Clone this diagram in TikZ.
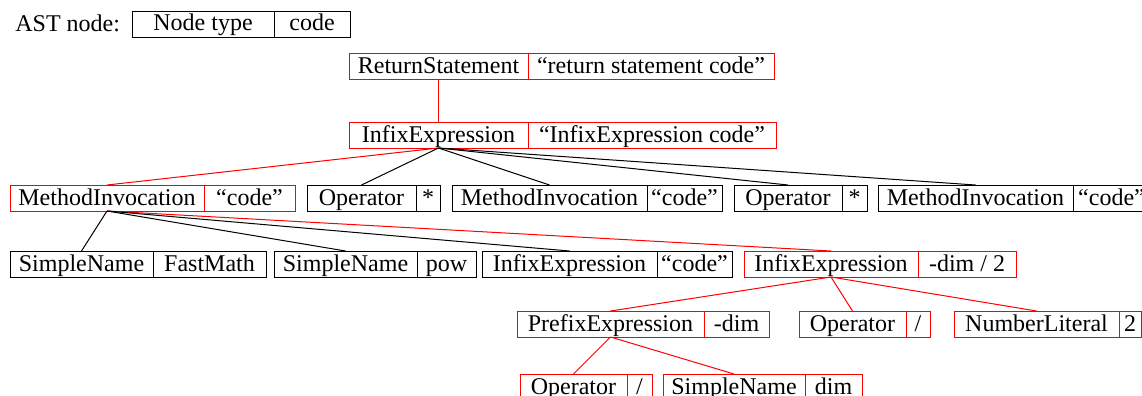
\documentclass[tikz,border=0pt]{standalone}
\usepackage{fontspec}
\setmainfont{Liberation Serif}
\definecolor{astred}{HTML}{FF0000}
\definecolor{astink}{HTML}{000000}

\begin{document}
\begin{tikzpicture}[x=0.5pt,y=-0.5pt,font=\fontsize{12pt}{14pt}\selectfont,
  part/.style={draw=#1,line width=0.5pt,anchor=west,minimum height=13pt,inner xsep=0,inner ysep=0.25pt,
    text height=9.75pt,text depth=2.75pt,outer sep=0},
  link/.style={draw=#1,line width=0.5pt}]
  \useasboundingbox (0,0) rectangle (1142,396);
  \clip (0,0) rectangle (1142,396);
  \node[anchor=base west,inner sep=0] (legend) at (15,32) {AST node:};
  % each AST node: type part + code part
  \foreach \name/\col/\xa/\xb/\xc/\yy/\type/\code in {%
    key/astink/132/274/350/24/{Node type}/code,
    ret/astred/349/528/774/66/ReturnStatement/{“return statement code”},
    infix/astred/349/528/776/135/InfixExpression/{“InfixExpression code”},
    callA/astred/10/204/295/198/MethodInvocation/{“code”},
    opA/astink/307/416/440/198/Operator/{*},
    callB/astink/452/647/722/198/MethodInvocation/{“code”},
    opB/astink/734/842/867/198/Operator/{*},
    callC/astink/878/1073/1150/198/MethodInvocation/{“code”},
    nameA/astink/10/153/266/264/SimpleName/FastMath,
    nameB/astink/274/417/476/264/SimpleName/pow,
    infixA/astink/482/657/732/264/InfixExpression/{“code”},
    infixB/astred/744/918/1016/264/InfixExpression/{-dim / 2},
    prefix/astred/517/704/769/324/PrefixExpression/{-dim},
    opC/astred/799/906/930/324/Operator/{/},
    lit/astred/954/1119/1141/324/NumberLiteral/2,
    opD/astred/520/627/652/387/Operator/{/},
    nameC/astred/663/805/862/387/SimpleName/dim}{
      \node[part=\col,minimum width={(\xb-\xa)*0.5pt}] (\name) at (\xa,\yy) {\type};
      \node[part=\col,minimum width={(\xc-\xb)*0.5pt}] (\name-c) at (\xb,\yy) {\code};
  }
  % tree edges, red = highlighted path
  \foreach \a/\b in {ret/infix,infix/callA,callA/infixB,infixB/prefix,infixB/opC,infixB/lit,prefix/opD,prefix/nameC}{
      \draw[link=astred] (\a.south)--(\b.north);
  }
  \foreach \a/\b in {infix/opA,infix/callB,infix/opB,infix/callC,callA/nameA,callA/nameB,callA/infixA}{
      \draw[link=astink] (\a.south)--(\b.north);
  }
\end{tikzpicture}
\end{document}
